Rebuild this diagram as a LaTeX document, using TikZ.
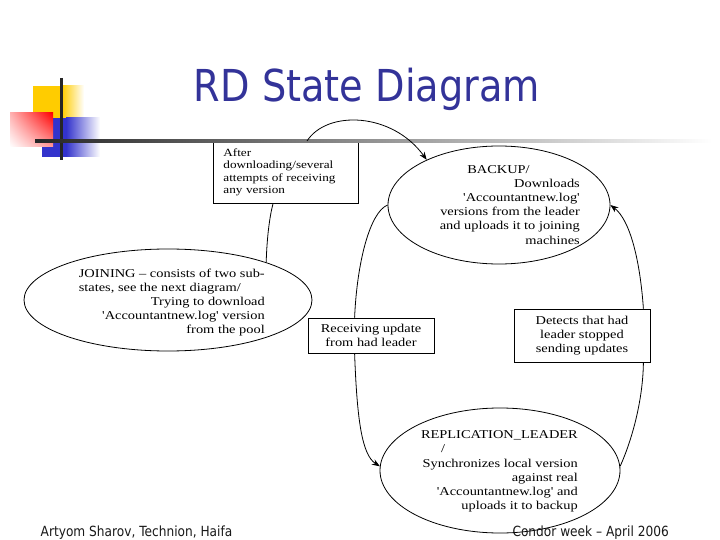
\documentclass[tikz,border=0pt]{standalone}
\usepackage{fontspec}
\setmainfont{Liberation Serif}
\newfontfamily\diafont[FakeStretch=1.2]{Liberation Serif}
\newfontfamily\slidefont[FakeStretch=0.87]{DejaVu Sans}
\usetikzlibrary{shapes.geometric,arrows.meta,shadings}
\definecolor{titleblue}{RGB}{51,51,153}
\definecolor{logoyellow}{RGB}{255,204,0}
\definecolor{logoblue}{RGB}{51,51,204}
\definecolor{logored}{RGB}{255,0,0}
\newlength\linew
\begin{document}
\begin{tikzpicture}[x=1pt,y=-1pt,
  conn/.style={line width=0.8pt},
  arr/.style={conn,-{Stealth[length=8pt,width=6pt]}},
  statebox/.style={draw, line width=0.8pt, inner sep=0pt},
  stateell/.style={draw, ellipse, line width=0.8pt, inner sep=0pt},
  dfont/.style={font=\diafont\fontsize{12}{14.2}\selectfont},
  dtext/.style={dfont, inner sep=0pt},
  foot/.style={inner sep=0pt, font=\slidefont\fontsize{14}{16}\selectfont, text=black!90},
]
\useasboundingbox (0,0) rectangle (720,540);
% logo
\fill[logoyellow] (33,86) rectangle (62,118);
\shade[left color=logoyellow, right color=white] (62,86) rectangle (84,118);
\fill[logoblue] (42,118) rectangle (66,157);
\shade[left color=logoblue, right color=white] (66,118) rectangle (100,157);
\shade[upper left=logored!30, upper right=logored, lower left=white, lower right=logored!40] (10,113) rectangle (53,147);
\draw[line width=3pt, black!85] (61,78) -- (61,160);
% title
\node[anchor=base, inner sep=0pt, text=titleblue, font=\slidefont\fontsize{44}{44}\selectfont] (title) at (367,102) {RD State Diagram};
% states
\node[stateell, minimum width=222pt, minimum height=118pt] (backup) at (499,205) {};
\node[stateell, minimum width=288pt, minimum height=102pt] (joining) at (168,300) {};
\node[stateell, minimum width=240pt, minimum height=125pt] (repl) at (500,470.5) {};
\node[dtext, align=right, anchor=north east] (backuptxt) at (580,165) {\settowidth{\linew}{versions from the leader}\makebox[\linew][l]{\hspace{27pt}BACKUP/}\\Downloads\\'Accountantnew.log'\\versions from the leader\\and uploads it to joining\\machines};
\node[dtext, align=right, anchor=north east] (jointxt) at (265,268.5) {JOINING – consists of two sub-\\\settowidth{\linew}{JOINING – consists of two sub-}\makebox[\linew][l]{states, see the next diagram/}\\Trying to download\\'Accountantnew.log' version\\from the pool};
\node[dtext, align=right, anchor=north east] (repltxt) at (578,430.5) {REPLICATION\_LEADER\\\settowidth{\linew}{REPLICATION\_LEADER}\makebox[\linew][l]{\hspace{20pt}/}\\Synchronizes local version\\against real\\'Accountantnew.log' and\\uploads it to backup};
% boxes
\node[statebox, anchor=north west, minimum width=145pt, minimum height=62pt, text width=125pt, inner xsep=10pt, align=left, font=\diafont\fontsize{11}{12.4}\selectfont] (after) at (213,141) {After\\downloading/several\\attempts of receiving\\any version};
\node[statebox, dfont, minimum width=126pt, minimum height=35pt, align=center] (recv) at (371,335.5) {Receiving update\\from had leader};
\node[statebox, dfont, minimum width=136pt, minimum height=53pt, align=center] (detect) at (582,335.5) {Detects that had\\leader stopped\\sending updates};
% header rule
\shade[left color=black!85, right color=white] (35,139.5) rectangle (712,142.5);
% connectors
\draw[conn] (joining.21) .. controls (267,235) and (270,215) .. ([xshift=60pt]after.south west);
\draw[arr] ([xshift=94pt]after.north west) .. controls (327,110) and (392,112) .. (backup.148);
\draw[conn] (backup.180) .. controls (370,212) and (357,262) .. ([xshift=47pt]recv.north west);
\draw[arr] ([xshift=47pt]recv.south west) .. controls (357,420) and (362,455) .. (repl.178);
\draw[conn] (repl.2) .. controls (632,440) and (643,400) .. ([xshift=-7pt]detect.south east);
\draw[arr] ([xshift=-7pt]detect.north east) .. controls (640,260) and (630,220) .. (backup.0);
% footer
\node[foot, anchor=base west] (footl) at (40.5,536) {Artyom Sharov, Technion, Haifa};
\node[foot, anchor=base east] (footr) at (669,536) {Condor week – April 2006};
\end{tikzpicture}
\end{document}
